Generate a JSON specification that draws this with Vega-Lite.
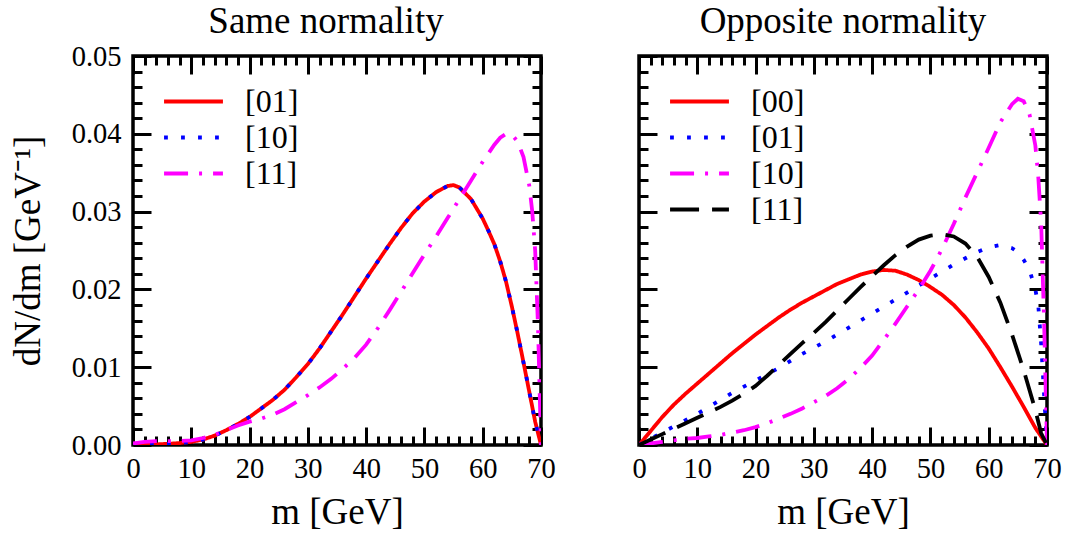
{
  "$schema": "https://vega.github.io/schema/vega-lite/v6.json",
  "padding": {"left": 7, "top": 0, "right": 2, "bottom": 2},
  "background": "white",
  "datasets": {
    "left": [
      {"m":0,"v":0,"s":"[01]"},{"m":2,"v":0.00003,"s":"[01]"},{"m":4,"v":0.00008,"s":"[01]"},{"m":6,"v":0.00015,"s":"[01]"},{"m":8,"v":0.00025,"s":"[01]"},{"m":10,"v":0.0004,"s":"[01]"},{"m":12,"v":0.0007,"s":"[01]"},{"m":14,"v":0.0012,"s":"[01]"},{"m":16,"v":0.0019,"s":"[01]"},{"m":18,"v":0.0027,"s":"[01]"},{"m":20,"v":0.0036,"s":"[01]"},{"m":22,"v":0.0047,"s":"[01]"},{"m":24,"v":0.0058,"s":"[01]"},{"m":26,"v":0.0071,"s":"[01]"},{"m":28,"v":0.0087,"s":"[01]"},{"m":30,"v":0.0104,"s":"[01]"},{"m":32,"v":0.0124,"s":"[01]"},{"m":34,"v":0.0146,"s":"[01]"},{"m":36,"v":0.0168,"s":"[01]"},{"m":38,"v":0.0191,"s":"[01]"},{"m":40,"v":0.0214,"s":"[01]"},{"m":42,"v":0.0236,"s":"[01]"},{"m":44,"v":0.0258,"s":"[01]"},{"m":46,"v":0.0279,"s":"[01]"},{"m":48,"v":0.0298,"s":"[01]"},{"m":50,"v":0.0313,"s":"[01]"},{"m":52,"v":0.0325,"s":"[01]"},{"m":54,"v":0.0333,"s":"[01]"},{"m":55,"v":0.0334,"s":"[01]"},{"m":56,"v":0.0331,"s":"[01]"},{"m":58,"v":0.0316,"s":"[01]"},{"m":60,"v":0.0291,"s":"[01]"},{"m":61,"v":0.0275,"s":"[01]"},{"m":62,"v":0.0258,"s":"[01]"},{"m":63,"v":0.0236,"s":"[01]"},{"m":64,"v":0.021,"s":"[01]"},{"m":65,"v":0.0178,"s":"[01]"},{"m":66,"v":0.0143,"s":"[01]"},{"m":67,"v":0.0106,"s":"[01]"},{"m":68,"v":0.0068,"s":"[01]"},{"m":69,"v":0.003,"s":"[01]"},{"m":70,"v":0,"s":"[01]"},
      {"m":0,"v":0,"s":"[10]"},{"m":2,"v":0.00003,"s":"[10]"},{"m":4,"v":0.00008,"s":"[10]"},{"m":6,"v":0.00015,"s":"[10]"},{"m":8,"v":0.00025,"s":"[10]"},{"m":10,"v":0.0004,"s":"[10]"},{"m":12,"v":0.0007,"s":"[10]"},{"m":14,"v":0.0012,"s":"[10]"},{"m":16,"v":0.0019,"s":"[10]"},{"m":18,"v":0.0027,"s":"[10]"},{"m":20,"v":0.0036,"s":"[10]"},{"m":22,"v":0.0047,"s":"[10]"},{"m":24,"v":0.0058,"s":"[10]"},{"m":26,"v":0.0071,"s":"[10]"},{"m":28,"v":0.0087,"s":"[10]"},{"m":30,"v":0.0104,"s":"[10]"},{"m":32,"v":0.0124,"s":"[10]"},{"m":34,"v":0.0146,"s":"[10]"},{"m":36,"v":0.0168,"s":"[10]"},{"m":38,"v":0.0191,"s":"[10]"},{"m":40,"v":0.0214,"s":"[10]"},{"m":42,"v":0.0236,"s":"[10]"},{"m":44,"v":0.0258,"s":"[10]"},{"m":46,"v":0.0279,"s":"[10]"},{"m":48,"v":0.0298,"s":"[10]"},{"m":50,"v":0.0313,"s":"[10]"},{"m":52,"v":0.0325,"s":"[10]"},{"m":54,"v":0.0333,"s":"[10]"},{"m":55,"v":0.0334,"s":"[10]"},{"m":56,"v":0.0331,"s":"[10]"},{"m":58,"v":0.0316,"s":"[10]"},{"m":60,"v":0.0291,"s":"[10]"},{"m":61,"v":0.0275,"s":"[10]"},{"m":62,"v":0.0258,"s":"[10]"},{"m":63,"v":0.0236,"s":"[10]"},{"m":64,"v":0.021,"s":"[10]"},{"m":65,"v":0.0178,"s":"[10]"},{"m":66,"v":0.0143,"s":"[10]"},{"m":67,"v":0.0106,"s":"[10]"},{"m":68,"v":0.0068,"s":"[10]"},{"m":69,"v":0.003,"s":"[10]"},{"m":70,"v":0,"s":"[10]"},
      {"m":0,"v":0.0002,"s":"[11]"},{"m":2,"v":0.0004,"s":"[11]"},{"m":4,"v":0.0005,"s":"[11]"},{"m":6,"v":0.0005,"s":"[11]"},{"m":8,"v":0.0005,"s":"[11]"},{"m":10,"v":0.0006,"s":"[11]"},{"m":12,"v":0.0009,"s":"[11]"},{"m":14,"v":0.0013,"s":"[11]"},{"m":16,"v":0.0019,"s":"[11]"},{"m":18,"v":0.0025,"s":"[11]"},{"m":20,"v":0.003,"s":"[11]"},{"m":22,"v":0.0034,"s":"[11]"},{"m":24,"v":0.0039,"s":"[11]"},{"m":26,"v":0.0046,"s":"[11]"},{"m":28,"v":0.0055,"s":"[11]"},{"m":30,"v":0.0064,"s":"[11]"},{"m":32,"v":0.0074,"s":"[11]"},{"m":34,"v":0.0085,"s":"[11]"},{"m":36,"v":0.0098,"s":"[11]"},{"m":38,"v":0.0112,"s":"[11]"},{"m":40,"v":0.0129,"s":"[11]"},{"m":42,"v":0.015,"s":"[11]"},{"m":44,"v":0.0173,"s":"[11]"},{"m":46,"v":0.0197,"s":"[11]"},{"m":48,"v":0.0221,"s":"[11]"},{"m":50,"v":0.0245,"s":"[11]"},{"m":52,"v":0.0268,"s":"[11]"},{"m":54,"v":0.0292,"s":"[11]"},{"m":56,"v":0.0316,"s":"[11]"},{"m":58,"v":0.034,"s":"[11]"},{"m":60,"v":0.0364,"s":"[11]"},{"m":62,"v":0.0386,"s":"[11]"},{"m":63,"v":0.0395,"s":"[11]"},{"m":64,"v":0.04,"s":"[11]"},{"m":65,"v":0.0399,"s":"[11]"},{"m":66,"v":0.039,"s":"[11]"},{"m":67,"v":0.037,"s":"[11]"},{"m":68,"v":0.0333,"s":"[11]"},{"m":68.5,"v":0.03,"s":"[11]"},{"m":69,"v":0.025,"s":"[11]"},{"m":69.5,"v":0.015,"s":"[11]"},{"m":70,"v":0,"s":"[11]"}
    ],
    "right": [
      {"m":0,"v":0,"s":"[00]"},{"m":2,"v":0.0018,"s":"[00]"},{"m":4,"v":0.0036,"s":"[00]"},{"m":6,"v":0.0052,"s":"[00]"},{"m":8,"v":0.0066,"s":"[00]"},{"m":10,"v":0.0079,"s":"[00]"},{"m":12,"v":0.0092,"s":"[00]"},{"m":14,"v":0.0105,"s":"[00]"},{"m":16,"v":0.0118,"s":"[00]"},{"m":18,"v":0.013,"s":"[00]"},{"m":20,"v":0.0142,"s":"[00]"},{"m":22,"v":0.0153,"s":"[00]"},{"m":24,"v":0.0164,"s":"[00]"},{"m":26,"v":0.0174,"s":"[00]"},{"m":28,"v":0.0183,"s":"[00]"},{"m":30,"v":0.0191,"s":"[00]"},{"m":32,"v":0.0199,"s":"[00]"},{"m":34,"v":0.0207,"s":"[00]"},{"m":36,"v":0.0213,"s":"[00]"},{"m":38,"v":0.0219,"s":"[00]"},{"m":40,"v":0.0223,"s":"[00]"},{"m":42,"v":0.0225,"s":"[00]"},{"m":44,"v":0.0224,"s":"[00]"},{"m":46,"v":0.0219,"s":"[00]"},{"m":48,"v":0.0212,"s":"[00]"},{"m":50,"v":0.0203,"s":"[00]"},{"m":52,"v":0.0193,"s":"[00]"},{"m":54,"v":0.018,"s":"[00]"},{"m":56,"v":0.0164,"s":"[00]"},{"m":58,"v":0.0145,"s":"[00]"},{"m":60,"v":0.0124,"s":"[00]"},{"m":62,"v":0.01,"s":"[00]"},{"m":64,"v":0.0075,"s":"[00]"},{"m":66,"v":0.0049,"s":"[00]"},{"m":68,"v":0.0022,"s":"[00]"},{"m":70,"v":0,"s":"[00]"},
      {"m":0,"v":0,"s":"[01]"},{"m":2,"v":0.0008,"s":"[01]"},{"m":4,"v":0.0016,"s":"[01]"},{"m":6,"v":0.0024,"s":"[01]"},{"m":8,"v":0.0032,"s":"[01]"},{"m":10,"v":0.004,"s":"[01]"},{"m":12,"v":0.0049,"s":"[01]"},{"m":14,"v":0.0058,"s":"[01]"},{"m":16,"v":0.0067,"s":"[01]"},{"m":18,"v":0.0075,"s":"[01]"},{"m":20,"v":0.0083,"s":"[01]"},{"m":22,"v":0.0091,"s":"[01]"},{"m":24,"v":0.0099,"s":"[01]"},{"m":26,"v":0.0108,"s":"[01]"},{"m":28,"v":0.0117,"s":"[01]"},{"m":30,"v":0.0125,"s":"[01]"},{"m":32,"v":0.0133,"s":"[01]"},{"m":34,"v":0.0142,"s":"[01]"},{"m":36,"v":0.0151,"s":"[01]"},{"m":38,"v":0.016,"s":"[01]"},{"m":40,"v":0.0169,"s":"[01]"},{"m":42,"v":0.0178,"s":"[01]"},{"m":44,"v":0.0187,"s":"[01]"},{"m":46,"v":0.0196,"s":"[01]"},{"m":48,"v":0.0205,"s":"[01]"},{"m":50,"v":0.0214,"s":"[01]"},{"m":52,"v":0.0223,"s":"[01]"},{"m":54,"v":0.0232,"s":"[01]"},{"m":56,"v":0.024,"s":"[01]"},{"m":58,"v":0.0248,"s":"[01]"},{"m":60,"v":0.0254,"s":"[01]"},{"m":62,"v":0.0257,"s":"[01]"},{"m":64,"v":0.0253,"s":"[01]"},{"m":65,"v":0.0248,"s":"[01]"},{"m":66,"v":0.0238,"s":"[01]"},{"m":67,"v":0.0225,"s":"[01]"},{"m":68,"v":0.02,"s":"[01]"},{"m":68.5,"v":0.018,"s":"[01]"},{"m":69,"v":0.013,"s":"[01]"},{"m":69.5,"v":0.0065,"s":"[01]"},{"m":70,"v":0,"s":"[01]"},
      {"m":0,"v":0,"s":"[10]"},{"m":2,"v":0.0002,"s":"[10]"},{"m":4,"v":0.0004,"s":"[10]"},{"m":6,"v":0.0006,"s":"[10]"},{"m":8,"v":0.0008,"s":"[10]"},{"m":10,"v":0.0009,"s":"[10]"},{"m":12,"v":0.0011,"s":"[10]"},{"m":14,"v":0.0013,"s":"[10]"},{"m":16,"v":0.0016,"s":"[10]"},{"m":18,"v":0.0019,"s":"[10]"},{"m":20,"v":0.0023,"s":"[10]"},{"m":22,"v":0.0028,"s":"[10]"},{"m":24,"v":0.0034,"s":"[10]"},{"m":26,"v":0.004,"s":"[10]"},{"m":28,"v":0.0047,"s":"[10]"},{"m":30,"v":0.0055,"s":"[10]"},{"m":32,"v":0.0063,"s":"[10]"},{"m":34,"v":0.0073,"s":"[10]"},{"m":36,"v":0.0085,"s":"[10]"},{"m":38,"v":0.0099,"s":"[10]"},{"m":40,"v":0.0115,"s":"[10]"},{"m":42,"v":0.0135,"s":"[10]"},{"m":44,"v":0.0156,"s":"[10]"},{"m":46,"v":0.0178,"s":"[10]"},{"m":48,"v":0.02,"s":"[10]"},{"m":50,"v":0.0224,"s":"[10]"},{"m":52,"v":0.0252,"s":"[10]"},{"m":54,"v":0.0284,"s":"[10]"},{"m":56,"v":0.0318,"s":"[10]"},{"m":58,"v":0.035,"s":"[10]"},{"m":60,"v":0.0382,"s":"[10]"},{"m":62,"v":0.0415,"s":"[10]"},{"m":64,"v":0.0438,"s":"[10]"},{"m":65,"v":0.0445,"s":"[10]"},{"m":66,"v":0.0442,"s":"[10]"},{"m":67,"v":0.0425,"s":"[10]"},{"m":68,"v":0.0385,"s":"[10]"},{"m":68.5,"v":0.0345,"s":"[10]"},{"m":69,"v":0.0285,"s":"[10]"},{"m":69.5,"v":0.016,"s":"[10]"},{"m":70,"v":0,"s":"[10]"},
      {"m":0,"v":0,"s":"[11]"},{"m":2,"v":0.0007,"s":"[11]"},{"m":4,"v":0.0014,"s":"[11]"},{"m":6,"v":0.0021,"s":"[11]"},{"m":8,"v":0.0028,"s":"[11]"},{"m":10,"v":0.0035,"s":"[11]"},{"m":12,"v":0.0042,"s":"[11]"},{"m":14,"v":0.0049,"s":"[11]"},{"m":16,"v":0.0057,"s":"[11]"},{"m":18,"v":0.0066,"s":"[11]"},{"m":20,"v":0.0076,"s":"[11]"},{"m":22,"v":0.0089,"s":"[11]"},{"m":24,"v":0.0103,"s":"[11]"},{"m":26,"v":0.0117,"s":"[11]"},{"m":28,"v":0.0131,"s":"[11]"},{"m":30,"v":0.0144,"s":"[11]"},{"m":32,"v":0.0158,"s":"[11]"},{"m":34,"v":0.0173,"s":"[11]"},{"m":36,"v":0.0188,"s":"[11]"},{"m":38,"v":0.0203,"s":"[11]"},{"m":40,"v":0.0217,"s":"[11]"},{"m":42,"v":0.0231,"s":"[11]"},{"m":44,"v":0.0244,"s":"[11]"},{"m":46,"v":0.0255,"s":"[11]"},{"m":48,"v":0.0264,"s":"[11]"},{"m":50,"v":0.0269,"s":"[11]"},{"m":52,"v":0.0271,"s":"[11]"},{"m":54,"v":0.0268,"s":"[11]"},{"m":56,"v":0.0259,"s":"[11]"},{"m":58,"v":0.0242,"s":"[11]"},{"m":60,"v":0.0216,"s":"[11]"},{"m":62,"v":0.0183,"s":"[11]"},{"m":64,"v":0.0142,"s":"[11]"},{"m":66,"v":0.0096,"s":"[11]"},{"m":68,"v":0.0045,"s":"[11]"},{"m":69,"v":0.0015,"s":"[11]"},{"m":70,"v":0,"s":"[11]"}
    ]
  },
  "hconcat": [
    {
      "width": 408,
      "height": 389,
      "title": {"text": "Same normality", "offset": 1, "dx": -11},
      "data": {"name": "left"},
      "layer": [
        {
          "mark": {"type": "line", "strokeWidth": 3.8, "clip": true},
          "encoding": {
            "x": {"field": "m", "type": "quantitative", "scale": {"domain": [0, 70], "nice": false},
              "axis": {"orient": "bottom", "title": "m [GeV]", "values": [0,2,4,6,8,10,12,14,16,18,20,22,24,26,28,30,32,34,36,38,40,42,44,46,48,50,52,54,56,58,60,62,64,66,68,70],
                "labelExpr": "datum.value % 10 === 0 ? datum.label : ''",
                "tickSize": {"condition": {"test": "datum.value % 10 === 0", "value": -18}, "value": -9},
                "labelPadding": 27, "titlePadding": 12}},
            "y": {"field": "v", "type": "quantitative", "scale": {"domain": [0, 0.05], "nice": false},
              "axis": {"orient": "left", "title": "dN/dm [GeV⁻¹]", "format": ".2f", "values": [0,0.002,0.004,0.006,0.008,0.01,0.012,0.014,0.016,0.018,0.02,0.022,0.024,0.026,0.028,0.03,0.032,0.034,0.036,0.038,0.04,0.042,0.044,0.046,0.048,0.05],
                "labelExpr": "abs(datum.value*100 - round(datum.value*100)) < 0.001 ? datum.label : ''",
                "tickSize": {"condition": {"test": "abs(datum.value*100 - round(datum.value*100)) < 0.001", "value": -18}, "value": -9},
                "labelPadding": 30, "titlePadding": 24}},
            "color": {"field": "s", "type": "nominal", "scale": {"domain": ["[01]", "[10]", "[11]"], "range": ["#ff0000", "#0000ff", "#ff00ff"]},
              "legend": {"title": null, "orient": "none", "legendX": 41, "legendY": 26}},
            "strokeDash": {"field": "s", "type": "nominal", "scale": {"domain": ["[01]", "[10]", "[11]"], "range": [[1, 0], [3.8, 13.2], [24, 11, 3, 11]]},
              "legend": {"title": null, "orient": "none", "legendX": 41, "legendY": 26}}
          }
        },
        {
          "mark": {"type": "line", "strokeOpacity": 0},
          "encoding": {
            "x": {"field": "m", "type": "quantitative",
              "axis": {"orient": "top", "title": null, "labels": false, "values": [0,2,4,6,8,10,12,14,16,18,20,22,24,26,28,30,32,34,36,38,40,42,44,46,48,50,52,54,56,58,60,62,64,66,68,70],
                "tickSize": {"condition": {"test": "datum.value % 10 === 0", "value": -18}, "value": -9}}},
            "y": {"field": "v", "type": "quantitative",
              "axis": {"orient": "right", "title": null, "labels": false, "values": [0,0.002,0.004,0.006,0.008,0.01,0.012,0.014,0.016,0.018,0.02,0.022,0.024,0.026,0.028,0.03,0.032,0.034,0.036,0.038,0.04,0.042,0.044,0.046,0.048,0.05],
                "tickSize": {"condition": {"test": "abs(datum.value*100 - round(datum.value*100)) < 0.001", "value": -18}, "value": -9}}}
          }
        }
      ],
      "resolve": {"axis": {"x": "independent", "y": "independent"}}
    },
    {
      "width": 408,
      "height": 389,
      "title": {"text": "Opposite normality", "offset": 14},
      "data": {"name": "right"},
      "layer": [
        {
          "mark": {"type": "line", "strokeWidth": 3.8, "clip": true},
          "encoding": {
            "x": {"field": "m", "type": "quantitative", "scale": {"domain": [0, 70], "nice": false},
              "axis": {"orient": "bottom", "title": "m [GeV]", "values": [0,2,4,6,8,10,12,14,16,18,20,22,24,26,28,30,32,34,36,38,40,42,44,46,48,50,52,54,56,58,60,62,64,66,68,70],
                "labelExpr": "datum.value % 10 === 0 ? datum.label : ''",
                "tickSize": {"condition": {"test": "datum.value % 10 === 0", "value": -18}, "value": -9},
                "labelPadding": 27, "titlePadding": 12}},
            "y": {"field": "v", "type": "quantitative", "scale": {"domain": [0, 0.05], "nice": false},
              "axis": {"orient": "left", "title": null, "labels": false, "values": [0,0.002,0.004,0.006,0.008,0.01,0.012,0.014,0.016,0.018,0.02,0.022,0.024,0.026,0.028,0.03,0.032,0.034,0.036,0.038,0.04,0.042,0.044,0.046,0.048,0.05],
                "tickSize": {"condition": {"test": "abs(datum.value*100 - round(datum.value*100)) < 0.001", "value": -18}, "value": -9}}},
            "color": {"field": "s", "type": "nominal", "scale": {"domain": ["[00]", "[01]", "[10]", "[11]"], "range": ["#ff0000", "#0000ff", "#ff00ff", "#000000"]},
              "legend": {"title": null, "orient": "none", "legendX": 41, "legendY": 26}},
            "strokeDash": {"field": "s", "type": "nominal", "scale": {"domain": ["[00]", "[01]", "[10]", "[11]"], "range": [[1, 0], [3.8, 13.2], [24, 11, 3, 11], [29, 13]]},
              "legend": {"title": null, "orient": "none", "legendX": 41, "legendY": 26}}
          }
        },
        {
          "mark": {"type": "line", "strokeOpacity": 0},
          "encoding": {
            "x": {"field": "m", "type": "quantitative",
              "axis": {"orient": "top", "title": null, "labels": false, "values": [0,2,4,6,8,10,12,14,16,18,20,22,24,26,28,30,32,34,36,38,40,42,44,46,48,50,52,54,56,58,60,62,64,66,68,70],
                "tickSize": {"condition": {"test": "datum.value % 10 === 0", "value": -18}, "value": -9}}},
            "y": {"field": "v", "type": "quantitative",
              "axis": {"orient": "right", "title": null, "labels": false, "values": [0,0.002,0.004,0.006,0.008,0.01,0.012,0.014,0.016,0.018,0.02,0.022,0.024,0.026,0.028,0.03,0.032,0.034,0.036,0.038,0.04,0.042,0.044,0.046,0.048,0.05],
                "tickSize": {"condition": {"test": "abs(datum.value*100 - round(datum.value*100)) < 0.001", "value": -18}, "value": -9}}}
          }
        }
      ],
      "resolve": {"axis": {"x": "independent", "y": "independent"}}
    }
  ],
  "spacing": 73,
  "resolve": {"scale": {"color": "independent", "strokeDash": "independent"}, "legend": {"color": "independent", "strokeDash": "independent"}},
  "config": {
    "font": "Liberation Serif",
    "view": {"stroke": "#000000", "strokeWidth": 3.5},
    "axis": {"domain": false, "grid": false, "labelFlush": false, "tickColor": "#000000", "tickWidth": 3, "labelColor": "#000000", "labelFont": "Liberation Serif", "labelFontSize": 28.5, "titleFont": "Liberation Serif", "titleFontSize": 37, "titleFontWeight": "normal", "titleColor": "#000000"},
    "title": {"font": "Liberation Serif", "fontSize": 37, "fontWeight": "normal", "color": "#000000"},
    "legend": {"labelFont": "Liberation Serif", "labelFontSize": 32, "labelColor": "#000000", "symbolType": "M-1.7,0H1.7", "symbolSize": 1200, "symbolStrokeWidth": 3.8, "labelOffset": 32, "rowPadding": 0}
  }
}
